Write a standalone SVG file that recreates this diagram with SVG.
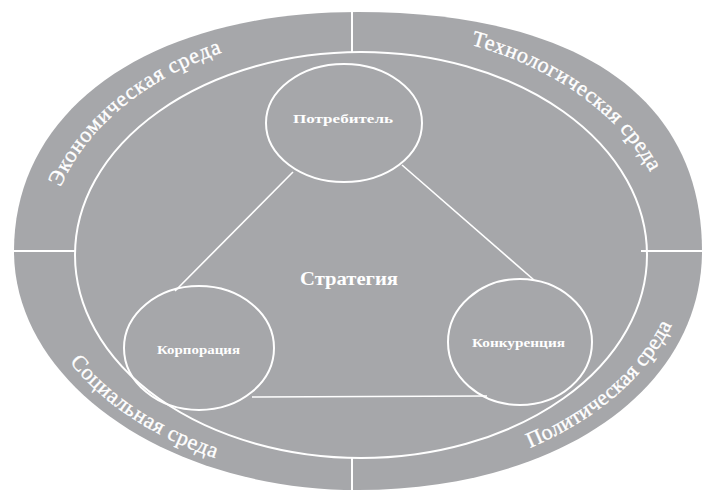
<svg xmlns="http://www.w3.org/2000/svg" width="704" height="491" viewBox="0 0 704 491">
<defs>
<style>
.band{fill:#a6a7aa;stroke:none}
.wl{fill:none;stroke:#ffffff;stroke-width:2}
.tl{fill:none;stroke:#ffffff;stroke-width:1.6}
.env{font-family:"Liberation Serif","Times New Roman",serif;font-size:22px;fill:#ffffff;stroke:#ffffff;stroke-width:0.35}
.lbl{font-family:"Liberation Serif","Times New Roman",serif;font-weight:bold;fill:#ffffff;text-anchor:middle}
</style>
<path id="pEcon" d="M 60.6 187.1 A 312 222 0 0 1 386.2 30.8"/>
<path id="pTech" d="M 470.8 44.7 A 312 222 0 0 1 666.3 213.5"/>
<path id="pSoc" d="M 69.6 362 A 330 229 0 0 0 416.3 477.5"/>
<path id="pPol" d="M 529.9 447.9 A 330 229 0 0 0 689 252"/>
</defs>
<rect width="704" height="491" fill="#ffffff"/>
<g id="environment">
<path class="band" d="M 14 251 C 14 107.6 151.6 12 358 12 C 578.2 12 702 98 702 251 C 702 389.6 557.5 490 358 490 C 168 490 14 383 14 251 Z"/>
<ellipse class="wl" cx="361" cy="255" rx="286" ry="203"/>
<line class="wl" x1="352" y1="8" x2="352" y2="53"/>
<line class="wl" x1="352" y1="457" x2="352" y2="491"/>
<line class="wl" x1="12" y1="251" x2="76" y2="251"/>
<line class="wl" x1="641" y1="251" x2="704" y2="251"/>
<text class="env"><textPath href="#pEcon" textLength="216" lengthAdjust="spacing">Экономическая среда</textPath></text>
<text class="env"><textPath href="#pTech" textLength="226" lengthAdjust="spacing">Технологическая среда</textPath></text>
<text class="env"><textPath href="#pSoc" textLength="177" lengthAdjust="spacing">Социальная среда</textPath></text>
<text class="env"><textPath href="#pPol" textLength="192" lengthAdjust="spacing">Политическая среда</textPath></text>
</g>
<g id="connectors">
<line class="tl" x1="293" y1="172" x2="175" y2="291"/>
<line class="tl" x1="402" y1="165" x2="534" y2="280"/>
<line class="tl" x1="252" y1="397" x2="487" y2="396"/>
</g>
<g id="strategy">
<text class="lbl" x="349" y="285" font-size="18" textLength="98" lengthAdjust="spacingAndGlyphs">Стратегия</text>
</g>
<g id="consumer">
<ellipse class="wl" cx="344" cy="123" rx="78" ry="59"/>
<text class="lbl" x="343" y="123" font-size="13" textLength="100" lengthAdjust="spacingAndGlyphs">Потребитель</text>
</g>
<g id="corporation">
<ellipse class="wl" cx="199" cy="348" rx="75" ry="62"/>
<text class="lbl" x="198.5" y="354" font-size="12" textLength="83" lengthAdjust="spacingAndGlyphs">Корпорация</text>
</g>
<g id="competition">
<ellipse class="wl" cx="520" cy="342" rx="72" ry="63"/>
<text class="lbl" x="518.5" y="347" font-size="12" textLength="93" lengthAdjust="spacingAndGlyphs">Конкуренция</text>
</g>
</svg>
